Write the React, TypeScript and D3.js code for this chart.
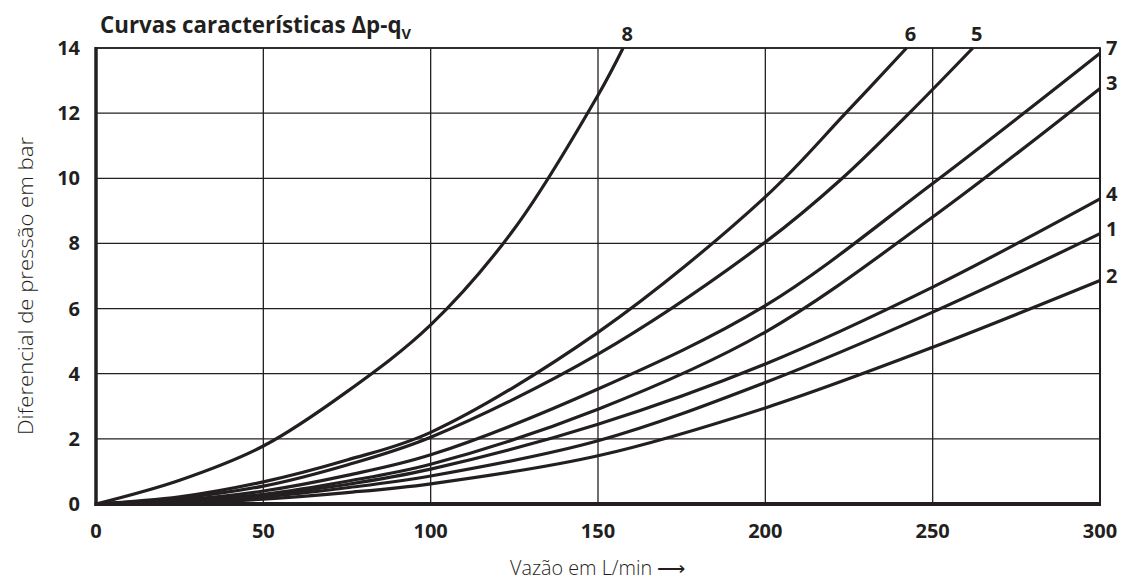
import React, { useEffect, useRef } from "react";
import * as d3 from "d3";

const xTicks = [0, 50, 100, 150, 200, 250, 300];
const yTicks = [0, 2, 4, 6, 8, 10, 12, 14];

const curve8Q = [0, 25, 50, 75, 100, 125, 150, 157.5];
const curve8P = [0, 0.73, 1.78, 3.45, 5.5, 8.45, 12.55, 14];
const curve6Q = [0, 25, 50, 75, 100, 150, 200, 224, 242.2];
const curve6P = [0, 0.22, 0.68, 1.35, 2.2, 5.27, 9.43, 12, 14];
const curve5Q = [0, 25, 50, 75, 100, 150, 200, 223, 243, 262];
const curve5P = [0, 0.18, 0.55, 1.2, 2.05, 4.6, 8.04, 10, 12, 14];
const curve7Q = [0, 25, 50, 75, 100, 150, 200, 250, 300];
const curve7P = [0, 0.12, 0.4, 0.88, 1.51, 3.53, 6.09, 9.84, 13.84];
const curve3Q = [0, 25, 50, 75, 100, 150, 200, 250, 300];
const curve3P = [0, 0.09, 0.3, 0.7, 1.22, 2.91, 5.28, 8.81, 12.76];
const curve4Q = [0, 25, 50, 75, 100, 150, 200, 250, 300];
const curve4P = [0, 0.08, 0.27, 0.6, 1.07, 2.45, 4.3, 6.66, 9.37];
const curve1Q = [0, 25, 50, 75, 100, 150, 200, 250, 300];
const curve1P = [0, 0.06, 0.22, 0.5, 0.86, 1.94, 3.73, 5.89, 8.3];
const curve2Q = [0, 25, 50, 75, 100, 150, 200, 250, 300];
const curve2P = [0, 0.04, 0.15, 0.35, 0.62, 1.48, 2.95, 4.81, 6.86];

const curveNames = ["8", "6", "5", "7", "3", "4", "1", "2"];
const curveQs = [curve8Q, curve6Q, curve5Q, curve7Q, curve3Q, curve4Q, curve1Q, curve2Q];
const curvePs = [curve8P, curve6P, curve5P, curve7P, curve3P, curve4P, curve1P, curve2P];

const W = 1121;
const H = 580;
const left = 96;
const right = 1100;
const top = 48;
const bottom = 504;
const INK = "#231f20";
const FONT = "'Open Sans', 'DejaVu Sans', sans-serif";

export default function App() {
  const ref = useRef<SVGSVGElement | null>(null);

  useEffect(() => {
    const svg = d3.select(ref.current);
    svg.selectAll("*").remove();

    const x = d3.scaleLinear().domain([0, 300]).range([left, right]);
    const y = d3.scaleLinear().domain([0, 14]).range([bottom, top]);

    const g = svg.append("g");

    // grid lines
    g.selectAll("line.vg")
      .data(xTicks.filter((t) => t > 0 && t < 300))
      .enter()
      .append("line")
      .attr("x1", (d) => x(d))
      .attr("x2", (d) => x(d))
      .attr("y1", y(14))
      .attr("y2", y(0))
      .attr("stroke", INK)
      .attr("stroke-width", 1.3);
    g.selectAll("line.hg")
      .data(yTicks.filter((t) => t > 0))
      .enter()
      .append("line")
      .attr("x1", x(0))
      .attr("x2", x(300))
      .attr("y1", (d) => y(d))
      .attr("y2", (d) => y(d))
      .attr("stroke", INK)
      .attr("stroke-width", 1.3);

    // right border
    g.append("line")
      .attr("x1", x(300))
      .attr("x2", x(300))
      .attr("y1", y(14))
      .attr("y2", y(0))
      .attr("stroke", INK)
      .attr("stroke-width", 2);

    // curves
    const line = d3
      .line<[number, number]>()
      .x((d) => x(d[0]))
      .y((d) => y(d[1]))
      .curve(d3.curveCatmullRom.alpha(0.5));

    curveNames.forEach((name, i) => {
      const pts: [number, number][] = curveQs[i].map((q, j) => [q, curvePs[i][j]]);
      g.append("path")
        .attr("d", line(pts) as string)
        .attr("fill", "none")
        .attr("stroke", INK)
        .attr("stroke-width", 3.2)
        .attr("stroke-linejoin", "round");
      const last = pts[pts.length - 1];
      const atTop = last[1] >= 14;
      g.append("text")
        .attr("x", atTop ? x(last[0]) + 4 : x(300) + 6)
        .attr("y", atTop ? y(14) - 7 : y(last[1]) + 2)
        .attr("text-anchor", atTop ? "middle" : "start")
        .attr("font-family", FONT)
        .attr("font-weight", 700)
        .attr("font-size", 20)
        .attr("fill", INK)
        .text(name);
    });

    // axes frame
    g.append("line")
      .attr("x1", x(0))
      .attr("x2", x(0))
      .attr("y1", y(14) - 1)
      .attr("y2", y(0) + 2)
      .attr("stroke", INK)
      .attr("stroke-width", 3.5);
    g.append("line")
      .attr("x1", x(0) - 1.5)
      .attr("x2", x(300) + 1)
      .attr("y1", y(0))
      .attr("y2", y(0))
      .attr("stroke", INK)
      .attr("stroke-width", 4);
    g.append("line")
      .attr("x1", x(0))
      .attr("x2", x(300) + 1)
      .attr("y1", y(14))
      .attr("y2", y(14))
      .attr("stroke", INK)
      .attr("stroke-width", 1.6);

    // tick labels
    g.selectAll("text.xt")
      .data(xTicks)
      .enter()
      .append("text")
      .attr("x", (d) => x(d))
      .attr("y", y(0) + 34)
      .attr("text-anchor", "middle")
      .attr("font-family", FONT)
      .attr("font-weight", 700)
      .attr("font-size", 20)
      .attr("fill", INK)
      .text((d) => String(d));
    g.selectAll("text.yt")
      .data(yTicks)
      .enter()
      .append("text")
      .attr("x", x(0) - 16)
      .attr("y", (d) => y(d) + 7)
      .attr("text-anchor", "end")
      .attr("font-family", FONT)
      .attr("font-weight", 700)
      .attr("font-size", 20)
      .attr("fill", INK)
      .text((d) => String(d));

    // title (single text with subscript tspan)
    const title = g
      .append("text")
      .attr("x", 100)
      .attr("y", 33)
      .attr("font-family", FONT)
      .attr("font-weight", 700)
      .attr("font-size", 23)
      .attr("fill", INK)
      .attr("textLength", 311)
      .attr("lengthAdjust", "spacingAndGlyphs");
    title.append("tspan").text("Curvas características Δp-q");
    title.append("tspan").attr("dy", 6).attr("font-size", 15).text("V");

    // axis titles
    g.append("text")
      .attr("transform", `translate(${33},${286}) rotate(-90)`)
      .attr("text-anchor", "middle")
      .attr("font-family", FONT)
      .attr("font-weight", 300)
      .attr("font-size", 20)
      .attr("fill", INK)
      .attr("textLength", 298)
      .attr("lengthAdjust", "spacingAndGlyphs")
      .text("Diferencial de pressão em bar");
    g.append("text")
      .attr("x", 598)
      .attr("y", 575)
      .attr("text-anchor", "middle")
      .attr("font-family", FONT)
      .attr("font-weight", 300)
      .attr("font-size", 20)
      .attr("fill", INK)
      .attr("textLength", 176)
      .attr("lengthAdjust", "spacingAndGlyphs")
      .text("Vazão em L/min ⟶");
  }, []);

  return (
    <svg
      ref={ref}
      width={W}
      height={H}
      style={{ position: "absolute", left: 0, top: 0, background: "#fff" }}
    />
  );
}
